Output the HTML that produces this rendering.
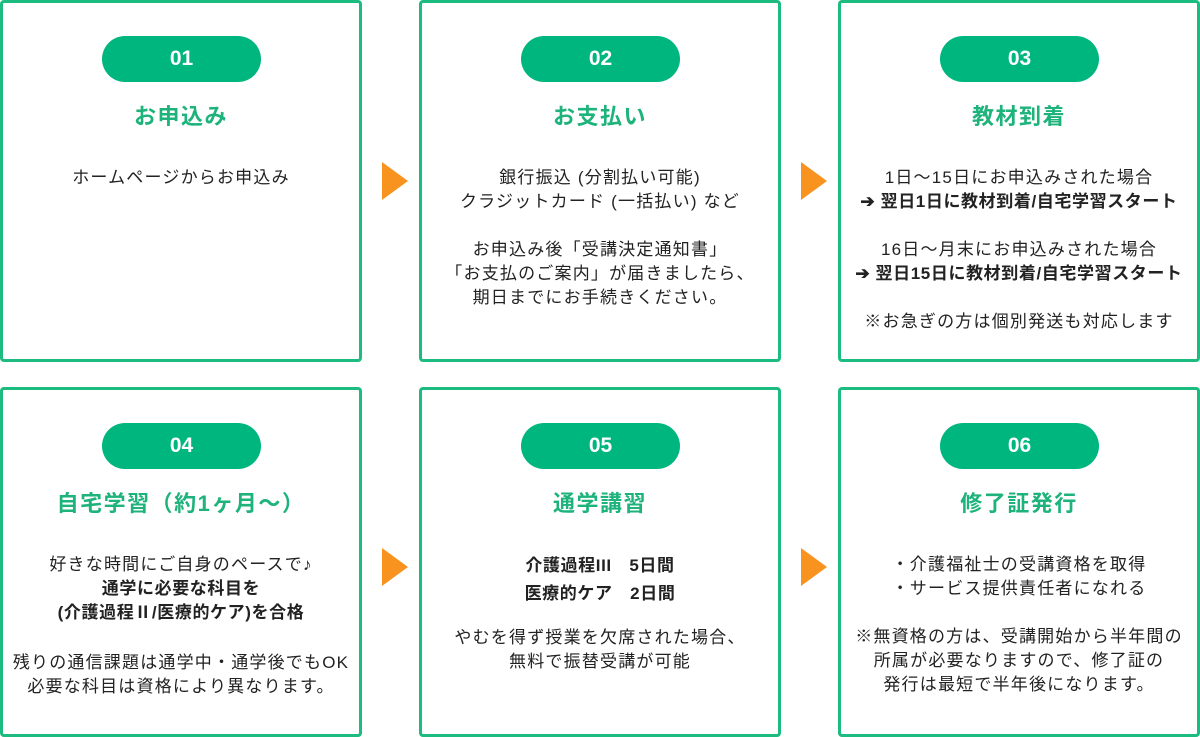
<!DOCTYPE html>
<html><head><meta charset="utf-8"><style>
*{margin:0;padding:0;box-sizing:border-box}
body{width:1200px;height:737px;background:#fff;position:relative;overflow:hidden;font-family:"Liberation Sans","Noto Sans CJK JP",sans-serif;color:#222}
.box{position:absolute;width:362px;border:3px solid #1cbb80;border-radius:4px;background:#fff}
.r1{top:0;height:362px}.r2{top:387px;height:350px}
.c1{left:0}.c2{left:419px}.c3{left:838px}
.pill{position:absolute;left:99px;top:33px;width:159px;height:46px;border-radius:23px;background:#00b67f;color:#fff;font-weight:bold;font-size:21px;text-align:center;line-height:46px}
.ttl{position:absolute;left:0;right:0;top:99px;text-align:center;color:#1db37b;font-weight:bold;font-size:22px;letter-spacing:1.5px;line-height:30px;white-space:nowrap}
.txt{position:absolute;left:-10px;right:-10px;top:163px;text-align:center;font-size:17px;letter-spacing:1.2px;line-height:24px;white-space:nowrap}
b{font-weight:bold;letter-spacing:0.6px}
.arr{position:absolute;width:0;height:0;border-top:19px solid transparent;border-bottom:19px solid transparent;border-left:26px solid #f7931e}
</style></head><body>
<div class="box r1 c1"><div class="pill">01</div><div class="ttl">お申込み</div><div class="txt">ホームページからお申込み</div></div>
<div class="box r1 c2"><div class="pill">02</div><div class="ttl">お支払い</div><div class="txt">銀行振込 (分割払い可能)<br>クラジットカード (一括払い) など<br><br>お申込み後「受講決定通知書」<br>「お支払のご案内」が届きましたら、<br>期日までにお手続きください。</div></div>
<div class="box r1 c3"><div class="pill">03</div><div class="ttl">教材到着</div><div class="txt">1日～15日にお申込みされた場合<br><b>➔ 翌日1日に教材到着/自宅学習スタート</b><br><br>16日～月末にお申込みされた場合<br><b>➔ 翌日15日に教材到着/自宅学習スタート</b><br><br>※お急ぎの方は個別発送も対応します</div></div>
<div class="box r2 c1"><div class="pill">04</div><div class="ttl">自宅学習（約1ヶ月～）</div><div class="txt">好きな時間にご自身のペースで♪<br><b>通学に必要な科目を<br>(介護過程Ⅱ/医療的ケア)を合格</b><br><div style="height:26px"></div>残りの通信課題は通学中・通学後でもOK<br>必要な科目は資格により異なります。</div></div>
<div class="box r2 c2"><div class="pill">05</div><div class="ttl">通学講習</div><div class="txt" style="top:162px"><b style="line-height:28px">介護過程III　5日間<br>医療的ケア　2日間</b><br><div style="height:18px"></div>やむを得ず授業を欠席された場合、<br>無料で振替受講が可能</div></div>
<div class="box r2 c3"><div class="pill">06</div><div class="ttl">修了証発行</div><div class="txt">・介護福祉士の受講資格を取得<br>・サービス提供責任者になれる<br><br>※無資格の方は、受講開始から半年間の<br>所属が必要なりますので、修了証の<br>発行は最短で半年後になります。</div></div>
<div class="arr" style="left:382px;top:162px"></div>
<div class="arr" style="left:801px;top:162px"></div>
<div class="arr" style="left:382px;top:548px"></div>
<div class="arr" style="left:801px;top:548px"></div>
</body></html>
